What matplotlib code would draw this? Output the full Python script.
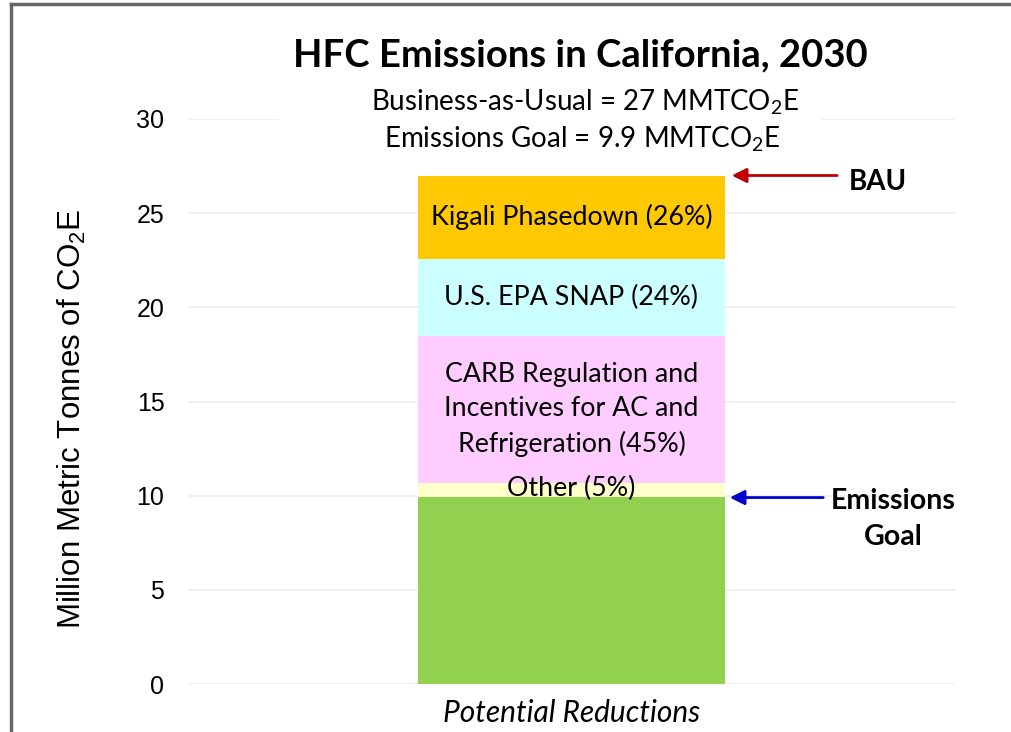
import matplotlib
matplotlib.use("Agg")
import matplotlib.pyplot as plt
from matplotlib.lines import Line2D

plt.rcParams['mathtext.default'] = 'regular'

category = ["Potential Reductions"]
segment_names = ["Emissions Goal", "Other (5%)",
                 "CARB Regulation and\nIncentives for AC and\nRefrigeration (45%)",
                 "U.S. EPA SNAP (24%)", "Kigali Phasedown (26%)"]
segment_values = [9.95, 0.7, 7.85, 4.05, 4.45]
segment_colors = ["#92D050", "#FFFFCC", "#FFCCFF", "#CCFFFF", "#FFC800"]
show_label = [False, True, True, True, True]
bau_value = 27
goal_value = 9.9
yticks = [0, 5, 10, 15, 20, 25, 30]

W, H = 1012, 732
fig = plt.figure(figsize=(W / 100, H / 100), dpi=100)
ax = fig.add_axes([188 / W, 1 - 684 / H, (955 - 188) / W, (684 - 119) / H])

ax.set_xlim(-0.5, 0.5)
ax.set_ylim(0, 30)
bottom = 0
label_font = ['Lato', 'DejaVu Sans']
for name, val, col, sh in zip(segment_names, segment_values, segment_colors, show_label):
    ax.bar(0, val, width=0.4, bottom=bottom, color=col, zorder=2)
    if sh:
        yc = bottom + val / 2
        if name.startswith("Other"):
            yc = bottom + val / 2 + 0.1
        ax.text(0, yc, name, ha='center', va='center', fontsize=19.3,
                family=label_font, linespacing=1.45, zorder=3)
    bottom += val

ax.set_yticks(yticks)
ax.set_yticklabels([str(t) for t in yticks], fontsize=18, family=['Liberation Sans', 'DejaVu Sans'])
ax.tick_params(axis='y', length=0, pad=17)
ax.set_xticks([])
ax.grid(axis='y', color='#EEEEEE', linewidth=1.2, zorder=0)
ax.set_axisbelow(True)
for s in ax.spines.values():
    s.set_visible(False)

ax.set_ylabel("Million Metric Tonnes of CO$_2$E", fontsize=22.5,
              family=['Liberation Sans Narrow', 'Liberation Sans'])
ax.yaxis.set_label_coords(-(188 - 88) / (955 - 188), 0.47)
ax.set_xlabel(category[0], fontsize=21.5, style='italic', family=label_font, labelpad=11)

# Title and subtitle
fig.text(580 / W, 1 - 55 / H, "HFC Emissions in California, 2030", ha='center', va='center',
         fontsize=27.5, fontweight='bold', family=label_font)
fig.text(585 / W, 1 - 102 / H, "Business-as-Usual = 27 MMTCO$_2$E", ha='center', va='center',
         fontsize=20, family=label_font)
fig.text(582 / W, 1 - 139 / H, "Emissions Goal = 9.9 MMTCO$_2$E", ha='center', va='center',
         fontsize=20, family=label_font)
# white box covering gridline behind subtitles
ax.axhspan(29.5, 30.5, xmin=(280 - 188) / 767, xmax=(820 - 188) / 767, color='white', zorder=1)

# Arrows
def px_to_x(px):
    return -0.5 + (px - 188) / 767

ax.annotate("", xy=(px_to_x(729), bau_value), xytext=(px_to_x(840), bau_value),
            arrowprops=dict(arrowstyle='-|>', color='#C00000', lw=2, mutation_scale=22),
            annotation_clip=False)
ax.text(px_to_x(878), bau_value - 0.35, "BAU", ha='center', va='center', fontsize=20,
        fontweight='bold', family=label_font)
ax.annotate("", xy=(px_to_x(727), goal_value), xytext=(px_to_x(826), goal_value),
            arrowprops=dict(arrowstyle='-|>', color='#0000CC', lw=2, mutation_scale=22),
            annotation_clip=False)
ax.text(px_to_x(893), 8.76, "Emissions\nGoal", ha='center', va='center', fontsize=20.5,
        fontweight='bold', family=label_font, linespacing=1.45)

# Outer frame (left and top)
fig.add_artist(Line2D([11 / W, 11 / W], [0, 1 - 4 / H], color='#666666', lw=2.5))
fig.add_artist(Line2D([11 / W, 1], [1 - 4 / H, 1 - 4 / H], color='#666666', lw=2.5))

fig.savefig("out.png", dpi=100)
